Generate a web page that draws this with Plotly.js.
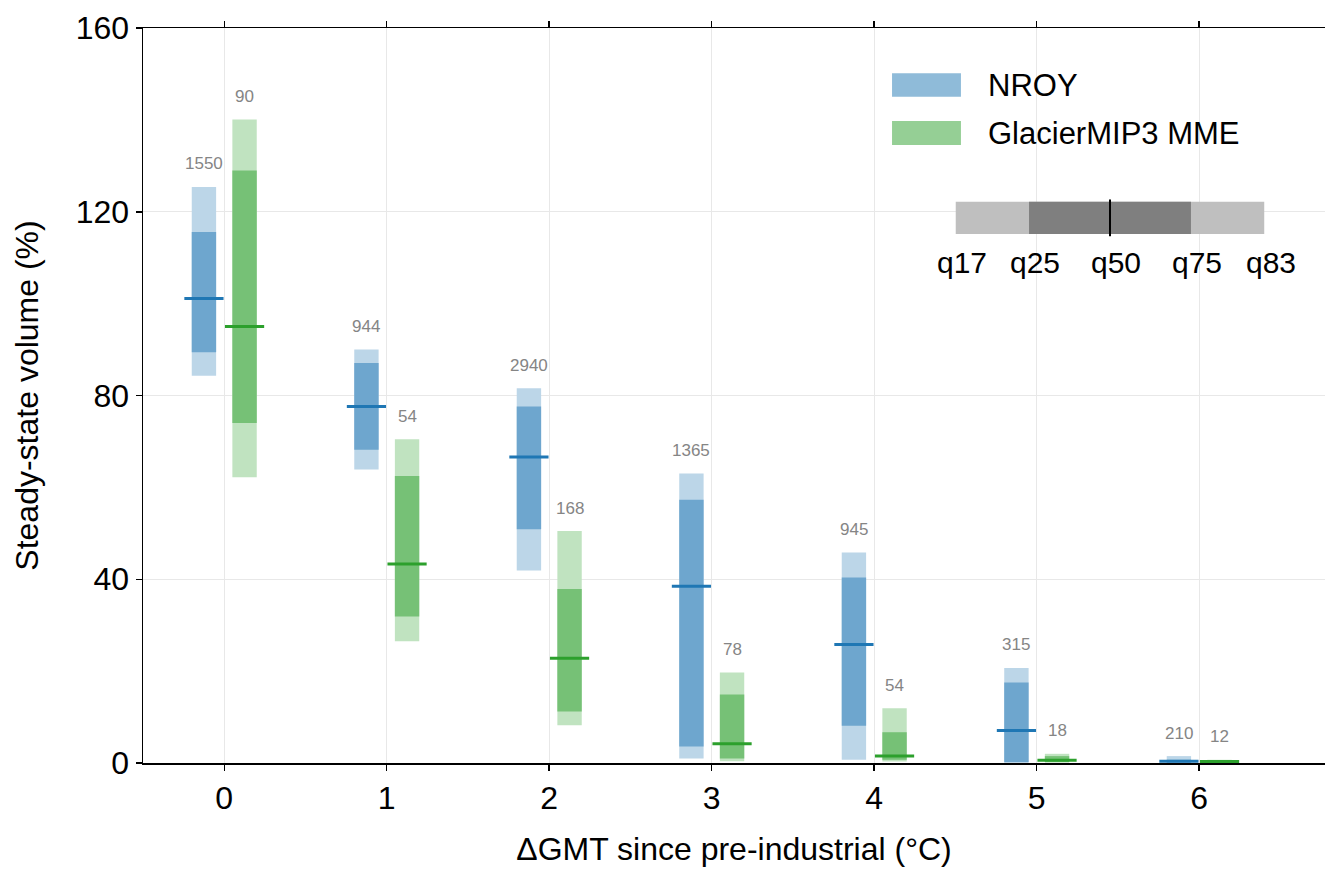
<!DOCTYPE html>
<html>
<head>
<meta charset="utf-8">
<script src="https://cdn.plot.ly/plotly-3.0.1.min.js"></script>
<style>
  html, body { margin: 0; padding: 0; background: #fff; }
  #chart { width: 1325px; height: 869px; }
</style>
</head>
<body>
<div id="chart"></div>
<script>
// Warming levels (°C above pre-industrial)
const dgmt = [0, 1, 2, 3, 4, 5, 6];

// NROY ensemble: steady-state volume quantiles (% of present)
const nroyQ17 = [84.3, 63.9, 41.9, 1.0, 0.7, 0.0, 0.0];
const nroyQ25 = [89.4, 68.2, 50.9, 3.6, 8.1, 0.2, 0.1];
const nroyQ50 = [101.1, 77.6, 66.6, 38.5, 25.8, 7.1, 0.4];
const nroyQ75 = [115.6, 87.1, 77.6, 57.3, 40.4, 17.5, 0.7];
const nroyQ83 = [125.4, 90.0, 81.6, 63.0, 45.8, 20.7, 1.5];
const nroyCount = [1550, 944, 2940, 1365, 945, 315, 210];

// GlacierMIP3 multi-model ensemble quantiles
const mmeQ17 = [62.2, 26.5, 8.2, 0.4, 0.3, 0.1, 0.0];
const mmeQ25 = [74.0, 31.9, 11.2, 1.0, 0.7, 0.2, 0.1];
const mmeQ50 = [95.0, 43.3, 22.8, 4.2, 1.5, 0.6, 0.3];
const mmeQ75 = [129.0, 62.5, 37.9, 14.9, 6.7, 1.5, 0.5];
const mmeQ83 = [140.1, 70.5, 50.5, 19.7, 11.9, 2.0, 0.7];
const mmeCount = [90, 54, 168, 78, 54, 18, 12];

const quantileNames = ['q17', 'q25', 'q50', 'q75', 'q83'];

const FONT = 'Liberation Sans, Arial, sans-serif';
const BAR_W = 0.15;
const SHIFT = 0.125;

const series = [
  { name: 'NROY', shift: -SHIFT, q17: nroyQ17, q25: nroyQ25, q50: nroyQ50, q75: nroyQ75, q83: nroyQ83,
    n: nroyCount, light: '#bcd6e8', dark: '#6ea6ce', line: '#1f77b4', patch: '#8fbbd9' },
  { name: 'GlacierMIP3 MME', shift: SHIFT, q17: mmeQ17, q25: mmeQ25, q50: mmeQ50, q75: mmeQ75, q83: mmeQ83,
    n: mmeCount, light: '#c0e3c0', dark: '#76c176', line: '#2ca02c', patch: '#95cf95' }
];

const sub = (a, b) => a.map((v, i) => v - b[i]);

const traces = [];
const annotations = [];
series.forEach(s => {
  // q17–q83 range
  traces.push({
    type: 'bar', x: dgmt, y: sub(s.q83, s.q17), base: s.q17,
    width: BAR_W, offset: s.shift - BAR_W / 2,
    marker: { color: s.light, line: { width: 0 } },
    showlegend: false, hoverinfo: 'skip'
  });
  // q25–q75 range
  traces.push({
    type: 'bar', x: dgmt, y: sub(s.q75, s.q25), base: s.q25,
    width: BAR_W, offset: s.shift - BAR_W / 2,
    marker: { color: s.dark, line: { width: 0 } },
    showlegend: false, hoverinfo: 'skip'
  });
  // median tick
  traces.push({
    type: 'scatter', mode: 'markers',
    x: dgmt.map(v => v + s.shift), y: s.q50,
    marker: { symbol: 'line-ew', size: 28, line: { width: 3, color: s.line } },
    cliponaxis: false, showlegend: false, hoverinfo: 'skip'
  });
  // ensemble member counts
  dgmt.forEach((t, i) => {
    annotations.push({
      x: t + s.shift, y: s.q83[i], xref: 'x', yref: 'y',
      text: String(s.n[i]), showarrow: false,
      yanchor: 'middle', yshift: 23,
      font: { family: FONT, size: 17, color: '#858585' }
    });
  });
});

// Legend: colour patches and labels (paper coordinates)
const shapes = [];
const patchRows = [
  { y0: 0.9065, y1: 0.9384, yt: 0.9224 },
  { y0: 0.8408, y1: 0.8735, yt: 0.8571 }
];
series.forEach((s, k) => {
  const r = patchRows[k];
  shapes.push({ type: 'rect', xref: 'paper', yref: 'paper', x0: 0.6337, x1: 0.6920, y0: r.y0, y1: r.y1,
    fillcolor: s.patch, line: { width: 0 }, layer: 'above' });
  annotations.push({ xref: 'paper', yref: 'paper', x: 0.7136, y: r.yt, xanchor: 'left', yanchor: 'middle',
    text: s.name, showarrow: false, font: { family: FONT, size: 31, color: '#000' } });
});

// Quantile key
const keyY0 = 0.7197, keyY1 = 0.7637;
shapes.push({ type: 'rect', xref: 'paper', yref: 'paper', x0: 0.6876, x1: 0.9486, y0: keyY0, y1: keyY1,
  fillcolor: '#bfbfbf', line: { width: 0 }, layer: 'above' });
shapes.push({ type: 'rect', xref: 'paper', yref: 'paper', x0: 0.7496, x1: 0.8866, y0: keyY0, y1: keyY1,
  fillcolor: '#7f7f7f', line: { width: 0 }, layer: 'above' });
shapes.push({ type: 'line', xref: 'paper', yref: 'paper', x0: 0.8181, x1: 0.8181, y0: keyY0 - 0.003, y1: keyY1 + 0.003,
  line: { color: '#000', width: 2 }, layer: 'above' });
const keyLabelX = [0.6926, 0.7547, 0.8232, 0.8917, 0.9541];
quantileNames.forEach((q, i) => {
  annotations.push({ xref: 'paper', yref: 'paper', x: keyLabelX[i], y: 0.6816, xanchor: 'center', yanchor: 'middle',
    text: q, showarrow: false, font: { family: FONT, size: 30, color: '#000' } });
});

const layout = {
  width: 1325, height: 869,
  margin: { l: 143, r: 0, t: 28, b: 106, pad: 0 },
  paper_bgcolor: '#fff', plot_bgcolor: '#fff',
  barmode: 'overlay',
  showlegend: false,
  font: { family: FONT, size: 32, color: '#000' },
  xaxis: {
    range: [-0.5, 6.774],
    tickvals: dgmt, ticktext: dgmt.map(String),
    showgrid: true, gridcolor: '#e8e8e8', gridwidth: 1,
    zeroline: false,
    showline: true, linecolor: '#000', linewidth: 1.5, mirror: 'ticks',
    ticks: 'outside', ticklen: 6, tickwidth: 1.5, tickcolor: '#000',
    tickfont: { family: FONT, size: 32, color: '#000' },
    title: { text: 'ΔGMT since pre-industrial (°C)', font: { family: FONT, size: 32, color: '#000' }, standoff: 22 }
  },
  yaxis: {
    range: [0, 160],
    tickvals: [0, 40, 80, 120, 160],
    showgrid: true, gridcolor: '#e8e8e8', gridwidth: 1,
    zeroline: false,
    showline: true, linecolor: '#000', linewidth: 1.5,
    ticks: 'outside', ticklen: 6, tickwidth: 1.5, tickcolor: '#000',
    tickfont: { family: FONT, size: 32, color: '#000' },
    title: { text: 'Steady-state volume (%)', font: { family: FONT, size: 32, color: '#000' }, standoff: 27 }
  },
  shapes: shapes,
  annotations: annotations
};

Plotly.newPlot('chart', traces, layout, { displayModeBar: false, staticPlot: true });
</script>
</body>
</html>
